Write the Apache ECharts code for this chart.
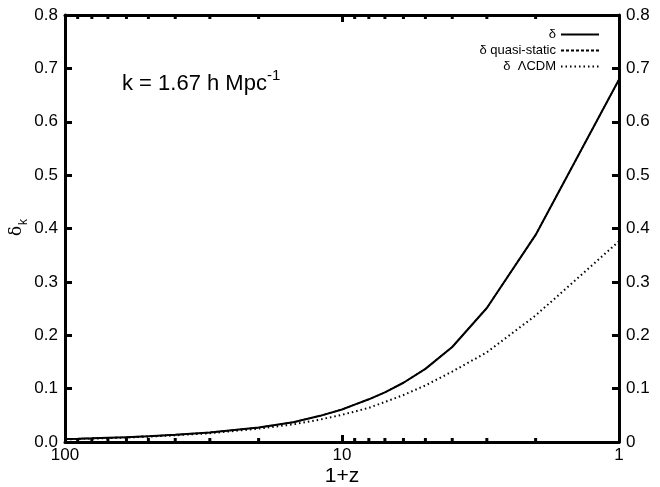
<!DOCTYPE html>
<html>
<head>
<meta charset="utf-8">
<script src="https://cdn.jsdelivr.net/npm/echarts@6/dist/echarts.min.js"></script>
<style>html,body{margin:0;padding:0;background:#fff}#c{width:660px;height:487px}</style>
</head>
<body>
<div id="c"></div>
<script>
// 1+z values
var onePlusZ = [1,2,3,4,5,6,7,8,9,10,12,15,20,30,40,50,60,70,80,90,100];
// delta (full)
var deltaFull = [0.679,0.388,0.251,0.178,0.137,0.111,0.093,0.080,0.070,0.061,0.049,0.037,0.027,0.018,0.0135,0.011,0.009,0.0078,0.0068,0.006,0.0054];
// delta quasi-static (overlaps full)
var deltaQS = [0.679,0.388,0.251,0.178,0.137,0.111,0.093,0.080,0.070,0.061,0.049,0.037,0.027,0.018,0.0135,0.011,0.009,0.0078,0.0068,0.006,0.0054];
// delta LCDM
var deltaLCDM = [0.376,0.237,0.168,0.132,0.106,0.088,0.075,0.064,0.057,0.051,0.042,0.033,0.025,0.0165,0.0125,0.010,0.0084,0.0072,0.0063,0.0056,0.005];
var minorTicks = [2,3,4,5,6,7,8,9,20,30,40,50,60,70,80,90];
var xTickLabels = {1:'1',10:'10',100:'100'};

function pairs(ys){ return onePlusZ.map(function(x,i){return [x, ys[i]];}); }

var font = 'Liberation Sans, Arial, sans-serif';
var chart = echarts.init(document.getElementById('c'));
var yCommon = {
  type:'value', min:0, max:0.8, interval:0.1,
  axisLine:{show:true, lineStyle:{color:'#000', width:3}},
  axisTick:{show:true, inside:true, length:7, lineStyle:{color:'#000', width:3}},
  splitLine:{show:false},
  axisLabel:{color:'#000', fontSize:17, fontFamily:font, margin:7}
};
var legendCommon = {orient:'vertical', align:'right', right:55, itemWidth:38, itemHeight:10,
  itemStyle:{opacity:0, borderWidth:0}, textStyle:{fontSize:13, fontFamily:font, color:'#000'}};
var option = {
  animation:false,
  grid:{left:65, right:41, top:15, bottom:45, containLabel:false, outerBoundsMode:'none'},
  xAxis:[{
    type:'log', logBase:10, min:1, max:100, inverse:true, position:'bottom',
    name:'1+z', nameLocation:'middle', nameGap:24, nameMoveOverlap:false,
    nameTextStyle:{color:'#000', fontSize:21, fontFamily:font},
    axisLine:{show:true, onZero:false, lineStyle:{color:'#000', width:3}},
    axisTick:{show:true, inside:true, length:7, lineStyle:{color:'#000', width:3}},
    splitLine:{show:false}, minorTick:{show:false},
    axisLabel:{color:'#000', fontSize:17, fontFamily:font, margin:5,
      formatter:function(v){return xTickLabels[Math.round(v)]||'';}}
  },{
    type:'log', logBase:10, min:1, max:100, inverse:true, position:'top',
    axisLine:{show:true, onZero:false, lineStyle:{color:'#000', width:3}},
    axisTick:{show:true, inside:true, length:7, lineStyle:{color:'#000', width:3}},
    splitLine:{show:false}, axisLabel:{show:false}
  }],
  yAxis:[
    Object.assign({}, yCommon, {position:'left',
      axisLabel:Object.assign({}, yCommon.axisLabel, {formatter:function(v){return v.toFixed(1);}})}),
    Object.assign({}, yCommon, {position:'right',
      axisLabel:Object.assign({}, yCommon.axisLabel, {formatter:function(v){return v===0?'0':v.toFixed(1);}})})
  ],
  legend:[
    Object.assign({data:['δ'], top:23}, legendCommon),
    Object.assign({data:['δ quasi-static'], top:39}, legendCommon),
    Object.assign({data:['δ  ΛCDM'], top:55}, legendCommon)
  ],
  graphic:[
    {type:'text', left:122, top:68, style:{text:'{m|k = 1.67 h Mpc}{s|-1}',
      rich:{m:{fontSize:22, fontFamily:font, fill:'#000', verticalAlign:'bottom'}, s:{fontSize:15, fontFamily:font, fill:'#000', verticalAlign:'top', padding:[0,0,12,0]}}}},
    {type:'text', x:25, y:236, rotation:Math.PI/2, style:{text:'δ', fontSize:17, fontFamily:'DejaVu Serif, serif', fill:'#000', textAlign:'left', textVerticalAlign:'bottom'}},
    {type:'text', x:30, y:225, rotation:Math.PI/2, style:{text:'k', fontSize:12, fontFamily:font, fill:'#000', textAlign:'left', textVerticalAlign:'bottom'}}
  ],
  series:[
    {name:'δ quasi-static', type:'line', data:pairs(deltaQS), symbol:'none', z:2,
     lineStyle:{color:'#000', width:1.5, type:[3,2]}, itemStyle:{color:'#000'}},
    {name:'δ', type:'line', data:pairs(deltaFull), symbol:'none', z:3,
     lineStyle:{color:'#000', width:2}, itemStyle:{color:'#000'}},
    {name:'δ  ΛCDM', type:'line', data:pairs(deltaLCDM), symbol:'none', z:3,
     lineStyle:{color:'#000', width:2, type:[1.5,3]}, itemStyle:{color:'#000'}},
    {name:'minor', type:'custom', data:minorTicks.map(function(v){return [v,0];}), z:5, silent:true,
     renderItem:function(params, api){
       var b = api.coord([api.value(0), 0]);
       var t = api.coord([api.value(0), 0.8]);
       return {type:'group', children:[
         {type:'line', shape:{x1:b[0], y1:b[1], x2:b[0], y2:b[1]-4}, style:{stroke:'#000', lineWidth:3}},
         {type:'line', shape:{x1:t[0], y1:t[1], x2:t[0], y2:t[1]+4}, style:{stroke:'#000', lineWidth:3}}
       ]};
     }, clip:false}
  ]
};
chart.setOption(option);
</script>
</body>
</html>
